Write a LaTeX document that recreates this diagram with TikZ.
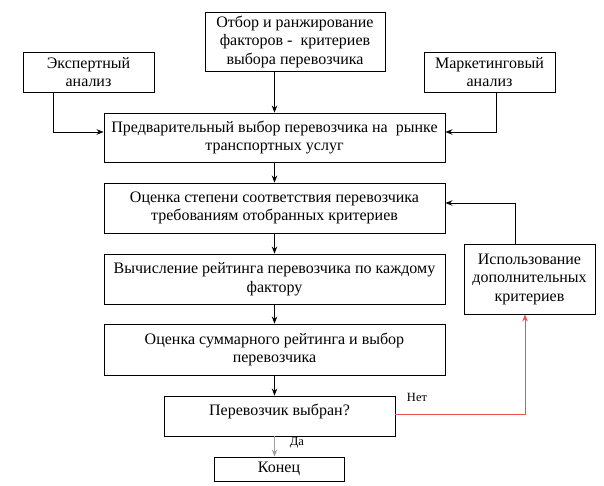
\documentclass[tikz,border=0pt]{standalone}
\usepackage{fontspec}
\setmainfont{Liberation Serif}
\usetikzlibrary{arrows.meta}

\begin{document}
\begin{tikzpicture}[
  x=1pt, y=-1pt,
  font=\fontsize{16}{18.5}\selectfont,
  >={Stealth[length=7pt,width=5.5pt]},
  stagebox/.style={draw=black, line width=0.9pt, align=center, inner sep=1pt},
  flowmap/.style={->, draw=black, line width=0.9pt},
  yesmap/.style={->, draw=gray!75, line width=0.9pt},
  nomap/.style={->, draw={rgb,255:red,236;green,80;blue,80}, line width=0.9pt},
  answer/.style={font=\fontsize{12.5}{14}\selectfont, inner sep=0pt}
]
  \useasboundingbox (0,0) rectangle (604,486);
  \node[stagebox, minimum width=180pt, minimum height=59pt] (select) at (295,41.5) {Отбор и ранжирование\\факторов -\ \ критериев\\выбора перевозчика};
  \node[stagebox, minimum width=131pt, minimum height=40pt] (expert) at (88.5,72) {Экспертный\\анализ};
  \node[stagebox, minimum width=131pt, minimum height=40pt] (market) at (489.5,72) {Маркетинговый\\анализ};
  \node[stagebox, minimum width=341pt, minimum height=49pt] (prelim) at (274.5,137.5) {Предварительный выбор перевозчика на\ \ рынке\\транспортных услуг};
  \node[stagebox, minimum width=341pt, minimum height=50pt] (match) at (274.5,208) {Оценка степени соответствия перевозчика\\требованиям отобранных критериев};
  \node[stagebox, minimum width=341pt, minimum height=50pt] (rating) at (274.5,279) {Вычисление рейтинга перевозчика по каждому\\фактору};
  \node[stagebox, minimum width=341pt, minimum height=51pt] (total) at (274.5,349.5) {Оценка суммарного рейтинга и выбор\\перевозчика};
  \node[stagebox, minimum width=231pt, minimum height=40pt, text depth=12pt] (chosen) at (279.5,416) {Перевозчик выбран?};
  \node[stagebox, minimum width=130pt, minimum height=24pt] (finish) at (279,469) {Конец};
  \node[stagebox, minimum width=131pt, minimum height=70pt] (extra) at (529.5,279) {Использование\\дополнительных\\критериев};

  \draw[flowmap] (prelim.north |- select.south) -- (prelim.north);
  \draw[flowmap] ([xshift=-35.5pt]expert.south) |- ([yshift=5.5pt]prelim.west);
  \draw[flowmap] ([xshift=6.5pt]market.south) |- ([yshift=5.5pt]prelim.east);
  \draw[flowmap] (prelim) -- (match);
  \draw[flowmap] (match) -- (rating);
  \draw[flowmap] (rating) -- (total);
  \draw[flowmap] (total.south) -- (total.south |- chosen.north);
  \draw[yesmap] (total.south |- chosen.south) -- (total.south |- finish.north);
  \draw[nomap] ([yshift=1.5pt]chosen.east) -| ([xshift=-4.5pt]extra.south);
  \draw[flowmap] ([xshift=-14.5pt]extra.north) |- ([yshift=5pt]match.east);

  \node[answer] (no) at (417,397) {Нет};
  \node[answer] (yes) at (297,443) {Да};
\end{tikzpicture}
\end{document}
